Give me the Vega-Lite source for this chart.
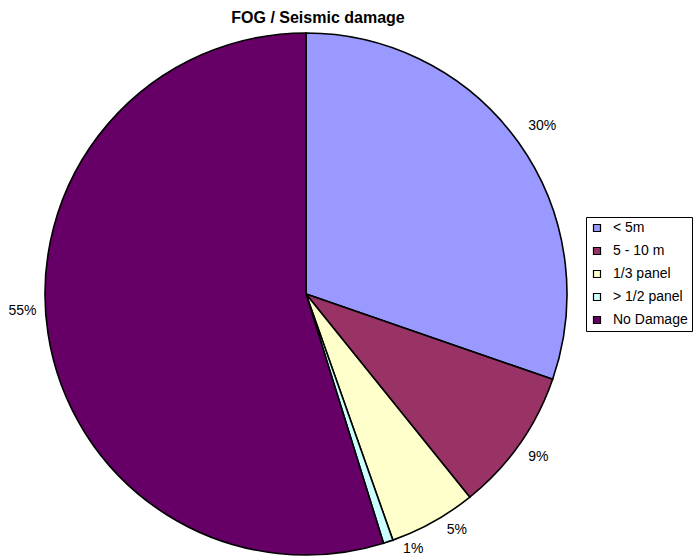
{
  "$schema": "https://vega.github.io/schema/vega-lite/v6.json",
  "width": 698,
  "height": 556,
  "autosize": {"type": "fit", "contains": "padding"},
  "padding": 0,
  "background": "white",
  "title": {"text": "FOG / Seismic damage", "font": "Liberation Sans", "fontSize": 16, "fontWeight": "bold", "color": "black", "anchor": "middle", "dx": -31, "offset": -26, "frame": "group"},
  "data": {"values": [
    {"category": "< 5m", "value": 30.3, "label": "30%", "order": 1},
    {"category": "5 - 10 m", "value": 8.9, "label": "9%", "order": 2},
    {"category": "1/3 panel", "value": 5.4, "label": "5%", "order": 3},
    {"category": "> 1/2 panel", "value": 0.6, "label": "1%", "order": 4},
    {"category": "No Damage", "value": 54.8, "label": "55%", "order": 5}
  ]},
  "encoding": {
    "theta": {"field": "value", "type": "quantitative", "stack": true},
    "order": {"field": "order", "type": "quantitative"}
  },
  "layer": [
    {
      "mark": {"type": "arc", "x": 306, "y": 294, "outerRadius": 261, "stroke": "black", "strokeWidth": 1.6},
      "encoding": {
        "color": {"field": "category", "type": "nominal",
          "scale": {"domain": ["< 5m", "5 - 10 m", "1/3 panel", "> 1/2 panel", "No Damage"],
                    "range": ["#9999FF", "#993366", "#FFFFCC", "#CCFFFF", "#660066"]},
          "legend": {"title": null, "orient": "none", "legendX": 586, "legendY": 217,
            "strokeColor": "black", "fillColor": "white", "padding": 4,
            "symbolType": "square", "symbolSize": 49, "symbolStrokeColor": "black", "symbolStrokeWidth": 1.2,
            "labelFont": "Liberation Sans", "labelFontSize": 14, "labelColor": "black",
            "rowPadding": 9, "labelOffset": 9, "labelLimit": 200, "symbolOffset": 0}}
      }
    },
    {
      "mark": {"type": "text", "x": 306, "y": 294, "radius": 290, "font": "Liberation Sans", "fontSize": 14, "color": "black"},
      "encoding": {"text": {"condition": {"test": "datum.order == 1", "field": "label"}, "value": ""}}
    },
    {
      "mark": {"type": "text", "x": 306, "y": 294, "radius": 284, "font": "Liberation Sans", "fontSize": 14, "color": "black"},
      "encoding": {"text": {"condition": {"test": "datum.order == 2", "field": "label"}, "value": ""}}
    },
    {
      "mark": {"type": "text", "x": 306, "y": 294, "radius": 280, "thetaOffset": -0.06, "font": "Liberation Sans", "fontSize": 14, "color": "black"},
      "encoding": {"text": {"condition": {"test": "datum.order == 3", "field": "label"}, "value": ""}}
    },
    {
      "mark": {"type": "text", "x": 306, "y": 294, "radius": 277, "thetaOffset": -0.077, "font": "Liberation Sans", "fontSize": 14, "color": "black"},
      "encoding": {"text": {"condition": {"test": "datum.order == 4", "field": "label"}, "value": ""}}
    },
    {
      "mark": {"type": "text", "x": 306, "y": 294, "radius": 284, "thetaOffset": 0.09, "font": "Liberation Sans", "fontSize": 14, "color": "black"},
      "encoding": {"text": {"condition": {"test": "datum.order == 5", "field": "label"}, "value": ""}}
    }
  ]
}
